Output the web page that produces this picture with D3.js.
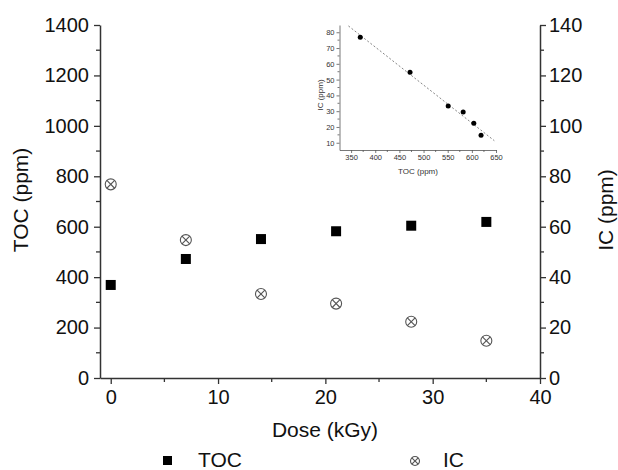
<!DOCTYPE html>
<html><head><meta charset="utf-8">
<script src="https://cdn.jsdelivr.net/npm/d3@7"></script>
<style>body{margin:0;background:#fff;} svg{display:block;font-family:"Liberation Sans",Arial,sans-serif;}</style>
</head><body>
<svg id="c" width="618" height="470"></svg>
<script>
const dose = [0, 7, 14, 21, 28, 35];
const toc = [369, 472, 551, 582, 604, 619];
const ic = [76.8, 54.7, 33.3, 29.5, 22.3, 14.8];
const xTicks = [0, 10, 20, 30, 40];
const yLeftTicks = [0, 200, 400, 600, 800, 1000, 1200, 1400];
const yRightTicks = [0, 20, 40, 60, 80, 100, 120, 140];
const insetXTicks = [350, 400, 450, 500, 550, 600, 650];
const insetYTicks = [10, 20, 30, 40, 50, 60, 70, 80];
const fitTOC = [344.5, 646.5];
const fitIC = [84.0, 11.3];

const svg = d3.select("#c");
const axisCol = "#333";
const fmt = d3.format("d");

const x = d3.scaleLinear().domain([-1, 40]).range([100, 540]);
const yL = d3.scaleLinear().domain([0, 1400]).range([378, 25]);
const yR = d3.scaleLinear().domain([0, 140]).range([378, 25]);

function styleAxis(g, fs) {
  g.select(".domain").attr("stroke", axisCol).attr("stroke-width", 1.5);
  g.selectAll(".tick line").attr("stroke", axisCol).attr("stroke-width", 1.3);
  g.selectAll(".tick text").attr("fill", "#111").style("font-size", fs + "px");
  g.attr("font-family", null);
}

function minor(scale, vals, orient, pos, len) {
  vals.forEach(v => {
    if (orient === "bottom") svg.append("line").attr("x1", scale(v)).attr("x2", scale(v)).attr("y1", pos).attr("y2", pos + len).attr("stroke", axisCol).attr("stroke-width", 1.3);
    if (orient === "left") svg.append("line").attr("y1", scale(v)).attr("y2", scale(v)).attr("x1", pos).attr("x2", pos - len).attr("stroke", axisCol).attr("stroke-width", 1.3);
    if (orient === "right") svg.append("line").attr("y1", scale(v)).attr("y2", scale(v)).attr("x1", pos).attr("x2", pos + len).attr("stroke", axisCol).attr("stroke-width", 1.3);
  });
}

const gx = svg.append("g").attr("transform", "translate(0,378)")
  .call(d3.axisBottom(x).tickValues(xTicks).tickFormat(fmt).tickSize(6).tickSizeOuter(0).tickPadding(6));
styleAxis(gx, 20);
minor(x, [5, 15, 25, 35], "bottom", 378, 4);

const gyl = svg.append("g").attr("transform", "translate(100,0)")
  .call(d3.axisLeft(yL).tickValues(yLeftTicks).tickFormat(fmt).tickSize(6).tickSizeOuter(0).tickPadding(5));
styleAxis(gyl, 20);
minor(yL, [100, 300, 500, 700, 900, 1100, 1300], "left", 100, 4);

const gyr = svg.append("g").attr("transform", "translate(540,0)")
  .call(d3.axisRight(yR).tickValues(yRightTicks).tickFormat(fmt).tickSize(6).tickSizeOuter(0).tickPadding(3));
styleAxis(gyr, 20);
minor(yR, [10, 30, 50, 70, 90, 110, 130], "right", 540, 4);

// axis titles
svg.append("text").attr("x", 325).attr("y", 437).attr("text-anchor", "middle").style("font-size", "21px").attr("fill", "#111").text("Dose (kGy)");
svg.append("text").attr("transform", "translate(28,200) rotate(-90)").attr("text-anchor", "middle").style("font-size", "21px").attr("fill", "#111").text("TOC (ppm)");
svg.append("text").attr("transform", "translate(613,210) rotate(-90)").attr("text-anchor", "middle").style("font-size", "21px").attr("fill", "#111").text("IC (ppm)");

function icMarker(g, cx, cy, r) {
  const m = g.append("g").attr("transform", `translate(${cx},${cy})`);
  m.append("circle").attr("r", r).attr("fill", "#fff").attr("stroke", "#555").attr("stroke-width", 1.1);
  const d = r * Math.SQRT1_2;
  m.append("line").attr("x1", -d).attr("y1", -d).attr("x2", d).attr("y2", d).attr("stroke", "#555").attr("stroke-width", 1.1);
  m.append("line").attr("x1", -d).attr("y1", d).attr("x2", d).attr("y2", -d).attr("stroke", "#555").attr("stroke-width", 1.1);
}

svg.append("g").selectAll("rect").data(dose).join("rect")
  .attr("x", (d) => x(d) - 5).attr("y", (d, i) => yL(toc[i]) - 5)
  .attr("width", 10).attr("height", 10).attr("fill", "#000");

const gic = svg.append("g");
dose.forEach((d, i) => icMarker(gic, x(d), yR(ic[i]), 5.5));

// Legend
svg.append("rect").attr("x", 163).attr("y", 456).attr("width", 9).attr("height", 9).attr("fill", "#000");
svg.append("text").attr("x", 198).attr("y", 467).style("font-size", "21px").attr("fill", "#111").text("TOC");
icMarker(svg, 415, 461, 4.5);
svg.append("text").attr("x", 443).attr("y", 467).style("font-size", "21px").attr("fill", "#111").text("IC");

// Inset
const ix = d3.scaleLinear().domain([326, 651]).range([339.5, 496.5]);
const iy = d3.scaleLinear().domain([5.4, 84.6]).range([150, 25]);
const insetCol = "#555";
const gix = svg.append("g").attr("transform", "translate(0,150)")
  .call(d3.axisBottom(ix).tickValues(insetXTicks).tickFormat(fmt).tickSize(3).tickSizeOuter(0).tickPadding(2));
const giy = svg.append("g").attr("transform", "translate(339.5,0)")
  .call(d3.axisLeft(iy).tickValues(insetYTicks).tickFormat(fmt).tickSize(3).tickSizeOuter(0).tickPadding(2));
[gix, giy].forEach(g => {
  g.attr("font-family", null);
  g.select(".domain").attr("stroke", insetCol).attr("stroke-width", 0.8);
  g.selectAll(".tick line").attr("stroke", insetCol).attr("stroke-width", 0.8);
  g.selectAll(".tick text").attr("fill", "#333").style("font-size", "7.5px");
});
[375, 425, 475, 525, 575, 625].forEach(v => svg.append("line").attr("x1", ix(v)).attr("x2", ix(v)).attr("y1", 150).attr("y2", 152).attr("stroke", insetCol).attr("stroke-width", 0.8));
[15, 25, 35, 45, 55, 65, 75].forEach(v => svg.append("line").attr("y1", iy(v)).attr("y2", iy(v)).attr("x1", 339.5).attr("x2", 337.5).attr("stroke", insetCol).attr("stroke-width", 0.8));

svg.append("text").attr("x", 418).attr("y", 174).attr("text-anchor", "middle").style("font-size", "8px").attr("fill", "#333").text("TOC (ppm)");
svg.append("text").attr("transform", "translate(323,95) rotate(-90)").attr("text-anchor", "middle").style("font-size", "8px").attr("fill", "#333").text("IC (ppm)");

svg.append("line").attr("x1", ix(fitTOC[0])).attr("y1", iy(fitIC[0])).attr("x2", ix(fitTOC[1])).attr("y2", iy(fitIC[1]))
  .attr("stroke", "#777").attr("stroke-width", 0.9).attr("stroke-dasharray", "2,2");

svg.append("g").selectAll("circle").data(toc).join("circle")
  .attr("cx", d => ix(d)).attr("cy", (d, i) => iy(ic[i])).attr("r", 2.5).attr("fill", "#000");
</script>
</body></html>
